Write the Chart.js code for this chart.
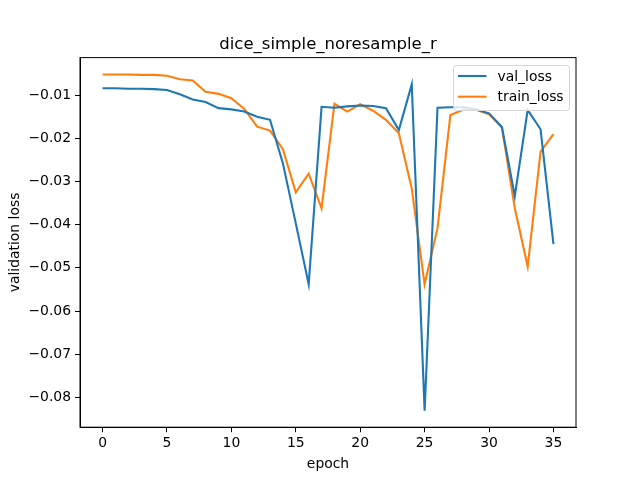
<!DOCTYPE html>
<html>
<head>
<meta charset="utf-8">
<script src="https://cdn.jsdelivr.net/npm/chart.js@4/dist/chart.umd.min.js"></script>
<style>
  html, body { margin: 0; padding: 0; background: #fff; }
  #wrap { width: 640px; height: 480px; }
</style>
</head>
<body>
<div id="wrap"><canvas id="lossChart" width="640" height="480"></canvas></div>
<script>
// epochs 0..35
const epochs = [0, 1, 2, 3, 4, 5, 6, 7, 8, 9, 10, 11, 12, 13, 14, 15, 16, 17,
  18, 19, 20, 21, 22, 23, 24, 25, 26, 27, 28, 29, 30, 31, 32, 33, 34, 35];

const valLoss = [-0.0084, -0.0084, -0.0085, -0.0085, -0.0086, -0.0088, -0.0098, -0.0110,
  -0.0116, -0.0130, -0.0133, -0.0138, -0.0150, -0.0157, -0.0258, -0.0397, -0.0538, -0.0127,
  -0.0129, -0.0126, -0.0124, -0.0125, -0.0130, -0.0181, -0.0075, -0.0831, -0.0129, -0.0128,
  -0.0128, -0.0133, -0.0142, -0.0174, -0.0334, -0.0134, -0.0179, -0.0445];

const trainLoss = [-0.0052, -0.0052, -0.0052, -0.0053, -0.0053, -0.0055, -0.0063, -0.0066,
  -0.0092, -0.0097, -0.0107, -0.0132, -0.0173, -0.0182, -0.0225, -0.0325, -0.0282, -0.0362,
  -0.0120, -0.0138, -0.0121, -0.0136, -0.0157, -0.0188, -0.0316, -0.0538, -0.0408, -0.0146,
  -0.0134, -0.0134, -0.0144, -0.0175, -0.0362, -0.0497, -0.0231, -0.0190];

const xTicks = [0, 5, 10, 15, 20, 25, 30, 35];
const yTicks = [-0.01, -0.02, -0.03, -0.04, -0.05, -0.06, -0.07, -0.08];

const chartTitle = 'dice_simple_noresample_r';
const FONT = '"DejaVu Sans", sans-serif';

function toPoints(ys) {
  return epochs.map((e, i) => ({ x: e, y: ys[i] }));
}

// title, frame and legend like matplotlib
const mplExtras = {
  id: 'mplExtras',
  afterDraw(chart) {
    const ctx = chart.ctx;
    const a = chart.chartArea;
    ctx.save();
    ctx.strokeStyle = '#000';
    ctx.lineWidth = 1;
    ctx.strokeRect(a.left, a.top, a.right - a.left, a.bottom - a.top);

    ctx.fillStyle = '#000';
    ctx.font = '16.5px ' + FONT;
    ctx.textAlign = 'center';
    ctx.textBaseline = 'alphabetic';
    ctx.fillText(chartTitle, (a.left + a.right) / 2, 49);

    // legend box
    const bx = 453.5, by = 65.5, bw = 116, bh = 45;
    ctx.fillStyle = 'rgba(255,255,255,0.8)';
    ctx.strokeStyle = '#d6d6d6';
    ctx.beginPath();
    ctx.roundRect(bx, by, bw, bh, 3);
    ctx.fill();
    ctx.stroke();
    ctx.font = '13.9px ' + FONT;
    ctx.textAlign = 'left';
    ctx.textBaseline = 'middle';
    chart.data.datasets.forEach((ds, i) => {
      const ly = 76 + i * 20.7;
      ctx.strokeStyle = ds.borderColor;
      ctx.lineWidth = 2.1;
      ctx.beginPath();
      ctx.moveTo(458, ly);
      ctx.lineTo(486.5, ly);
      ctx.stroke();
      ctx.fillStyle = '#000';
      ctx.fillText(ds.label, 497.5, ly + 1);
    });
    ctx.restore();
  }
};

new Chart(document.getElementById('lossChart'), {
  type: 'line',
  data: {
    datasets: [{
      label: 'val_loss',
      data: toPoints(valLoss),
      borderColor: '#1f77b4',
      borderWidth: 2.1,
      pointRadius: 0,
      tension: 0,
      fill: false
    }, {
      label: 'train_loss',
      data: toPoints(trainLoss),
      borderColor: '#ff7f0e',
      borderWidth: 2.1,
      pointRadius: 0,
      tension: 0,
      fill: false
    }]
  },
  options: {
    responsive: false,
    animation: false,
    layout: { padding: { top: 57.6, right: 64, left: 0, bottom: 0 } },
    plugins: {
      legend: { display: false },
      title: { display: false },
      tooltip: { enabled: false }
    },
    scales: {
      x: {
        type: 'linear',
        min: -1.75,
        max: 36.75,
        afterBuildTicks: (scale) => { scale.ticks = xTicks.map(v => ({ value: v })); },
        afterFit: (scale) => { scale.height = 52.8; },
        grid: { drawOnChartArea: false, tickLength: 5, color: '#000', tickColor: '#000' },
        border: { display: true, color: '#000', width: 1 },
        ticks: { color: '#000', padding: 3, maxRotation: 0, font: { family: FONT, size: 13.9 } },
        title: { display: true, text: 'epoch', color: '#000', padding: { top: 0, bottom: 7 }, font: { family: FONT, size: 13.9 } }
      },
      y: {
        type: 'linear',
        min: -0.0869,
        max: -0.0013,
        afterBuildTicks: (scale) => { scale.ticks = yTicks.map(v => ({ value: v })); },
        afterFit: (scale) => { scale.width = 80; },
        grid: { drawOnChartArea: false, tickLength: 5, color: '#000', tickColor: '#000' },
        border: { display: true, color: '#000', width: 1 },
        ticks: {
          color: '#000',
          padding: 4,
          font: { family: FONT, size: 13.9 },
          callback: (v) => '\u2212' + Math.abs(v).toFixed(2)
        },
        title: { display: true, text: 'validation loss', color: '#000', padding: { top: 7, bottom: 0 }, font: { family: FONT, size: 13.9 } }
      }
    }
  },
  plugins: [mplExtras]
});
</script>
</body>
</html>
